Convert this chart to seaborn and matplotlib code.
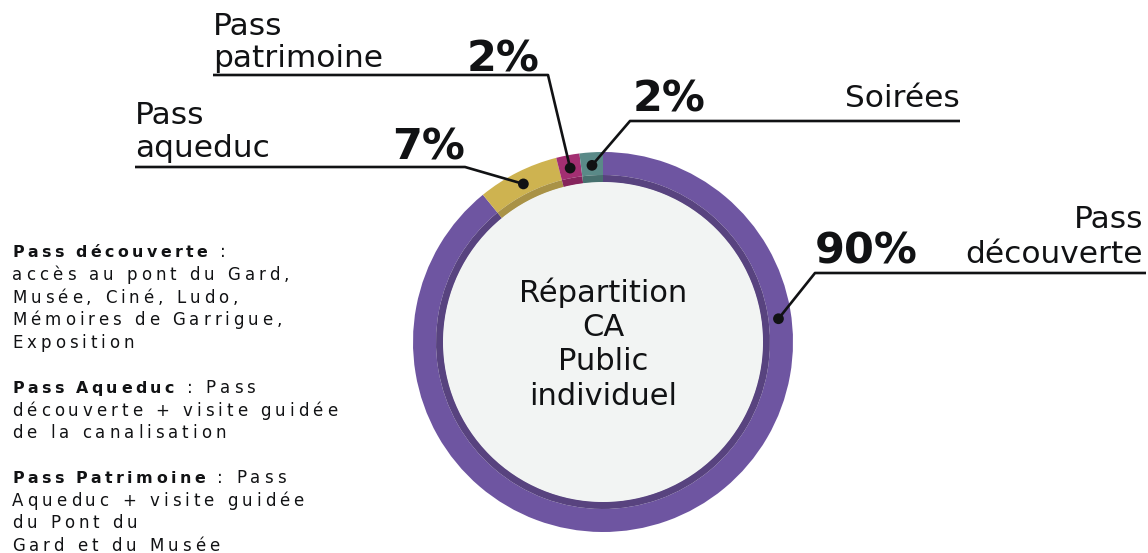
import numpy as np
import pandas as pd
import matplotlib
matplotlib.use("Agg")
import matplotlib.pyplot as plt
from matplotlib.patches import Circle
from matplotlib.font_manager import FontProperties
import seaborn as sns

# ---- data -------------------------------------------------------------
categories = ["Pass découverte", "Pass aqueduc", "Pass patrimoine", "Soirées"]
shares = [90, 7, 2, 2]
share_labels = ["90%", "7%", "2%", "2%"]
name_lines = [["Pass", "découverte"], ["Pass", "aqueduc"], ["Pass", "patrimoine"], ["Soirées"]]
center_title = ["Répartition", "CA", "Public", "individuel"]

# side notes: each line is a list of (text, bold) runs
notes = [
    [[("Pass découverte", True), (" :", False)],
     [("accès au pont du Gard,", False)],
     [("Musée, Ciné, Ludo,", False)],
     [("Mémoires de Garrigue,", False)],
     [("Exposition", False)]],
    [[("Pass Aqueduc", True), (" : Pass", False)],
     [("découverte + visite guidée", False)],
     [("de la canalisation", False)]],
    [[("Pass Patrimoine", True), (" : Pass", False)],
     [("Aqueduc + visite guidée", False)],
     [("du Pont du", False)],
     [("Gard et du Musée", False)]],
]

# ---- styling ----------------------------------------------------------
ring_colors = ["#6e55a1", "#ceb350", "#a32f72", "#5a8a88"]
band_colors = ["#58437f", "#a99246", "#85245c", "#47706e"]
hole_color = "#f2f4f3"
ink = "#111214"

W, H = 1148, 553
cx, cy = 603, 342
r_outer, r_band, r_hole = 190, 167, 160

# annotation layout per slice: position along wedge, elbow, line end,
# percentage anchor and name anchor (x, baseline, align)
layout = [
    dict(frac=0.257, elbow=(815, 273), end=1146, pct=(815, 263, "left"), name=(1143, 263, "right"), gap=35),
    dict(frac=0.5, elbow=(465, 167), end=135, pct=(465, 159, "right"), name=(135, 157, "left"), gap=33),
    dict(frac=0.5, elbow=(548, 75), end=213, pct=(540, 71, "right"), name=(213, 67, "left"), gap=32),
    dict(frac=0.5, elbow=(630, 121), end=960, pct=(633, 111, "left"), name=(960, 107, "right"), gap=33),
]

sns.set_theme(style="white")
plt.rcParams["font.family"] = ["DejaVu Sans"]

fig = plt.figure(figsize=(W / 100, H / 100), dpi=100)
ax = fig.add_axes([0, 0, 1, 1])

# y grows downward, so start at -90 and go counter-clockwise in data space
wedges, _ = ax.pie(shares, radius=r_outer, center=(cx, cy), colors=ring_colors,
                   startangle=-90, counterclock=True,
                   wedgeprops=dict(width=r_outer - r_band, linewidth=0))
ax.pie(shares, radius=r_band, center=(cx, cy), colors=band_colors,
       startangle=-90, counterclock=True,
       wedgeprops=dict(width=r_band - r_hole + 0.5, linewidth=0))
ax.add_patch(Circle((cx, cy), r_hole, facecolor=hole_color, edgecolor="none", zorder=3))

# anchor dots on the ring
r_dot = 177
rows = []
for w, lay in zip(wedges, layout):
    t1, t2 = w.theta1, w.theta2
    ang = np.deg2rad(t1 + (t2 - t1) * lay["frac"])
    rows.append(dict(x=cx + r_dot * np.cos(ang), y=cy + r_dot * np.sin(ang)))
dots = pd.DataFrame(rows)

for (_, d), lay in zip(dots.iterrows(), layout):
    ex, ey = lay["elbow"]
    ax.plot([d.x, ex, lay["end"]], [d.y, ey, ey], color=ink, lw=1.9,
            solid_capstyle="butt", zorder=5)
sns.scatterplot(data=dots, x="x", y="y", color=ink, s=60, edgecolor="none",
                legend=False, ax=ax, zorder=6)
ax.set_xlim(0, W)
ax.set_ylim(H, 0)
ax.set_aspect("equal")
ax.axis("off")

# percentages and slice names
for lab, names, lay in zip(share_labels, name_lines, layout):
    px, py, pha = lay["pct"]
    ax.text(px, py, lab, ha=pha, va="baseline", fontsize=31, fontweight="bold",
            color=ink, zorder=7)
    nx, ny, nha = lay["name"]
    for i, line in enumerate(reversed(names)):
        ax.text(nx, ny - i * lay["gap"], line, ha=nha, va="baseline",
                fontsize=22.5, color=ink, zorder=7)

# centre title
ax.text(cx, cy + 2, "\n".join(center_title), ha="center", va="center",
        fontsize=22, linespacing=1.23, color=ink, zorder=7)

# side notes with letter spacing, drawn character by character
renderer = fig.canvas.get_renderer()
props = {False: FontProperties(family="DejaVu Sans", size=12),
         True: FontProperties(family="DejaVu Sans", size=11.4, weight="bold")}
cache = {}


def advance(ch, bold):
    key = (ch, bold)
    if key not in cache:
        p = props[bold]
        wa = renderer.get_text_width_height_descent("n" + ch + "n", p, ismath=False)[0]
        wb = renderer.get_text_width_height_descent("nn", p, ismath=False)[0]
        cache[key] = wa - wb
    return cache[key]


tracking = 4.0
x0, y = 12, 257
line_step, para_step = 22.8, 44.5
for para in notes:
    for j, line in enumerate(para):
        x = x0
        for text, bold in line:
            step = tracking - (0.6 if bold else 0.0)
            for ch in text:
                if ch != " ":
                    ax.text(x, y, ch, ha="left", va="baseline", fontproperties=props[bold],
                            color=ink, zorder=7)
                x += advance(ch, bold) + step
        y += line_step
    y += para_step - line_step

fig.savefig("out.png", dpi=100, facecolor="white")
